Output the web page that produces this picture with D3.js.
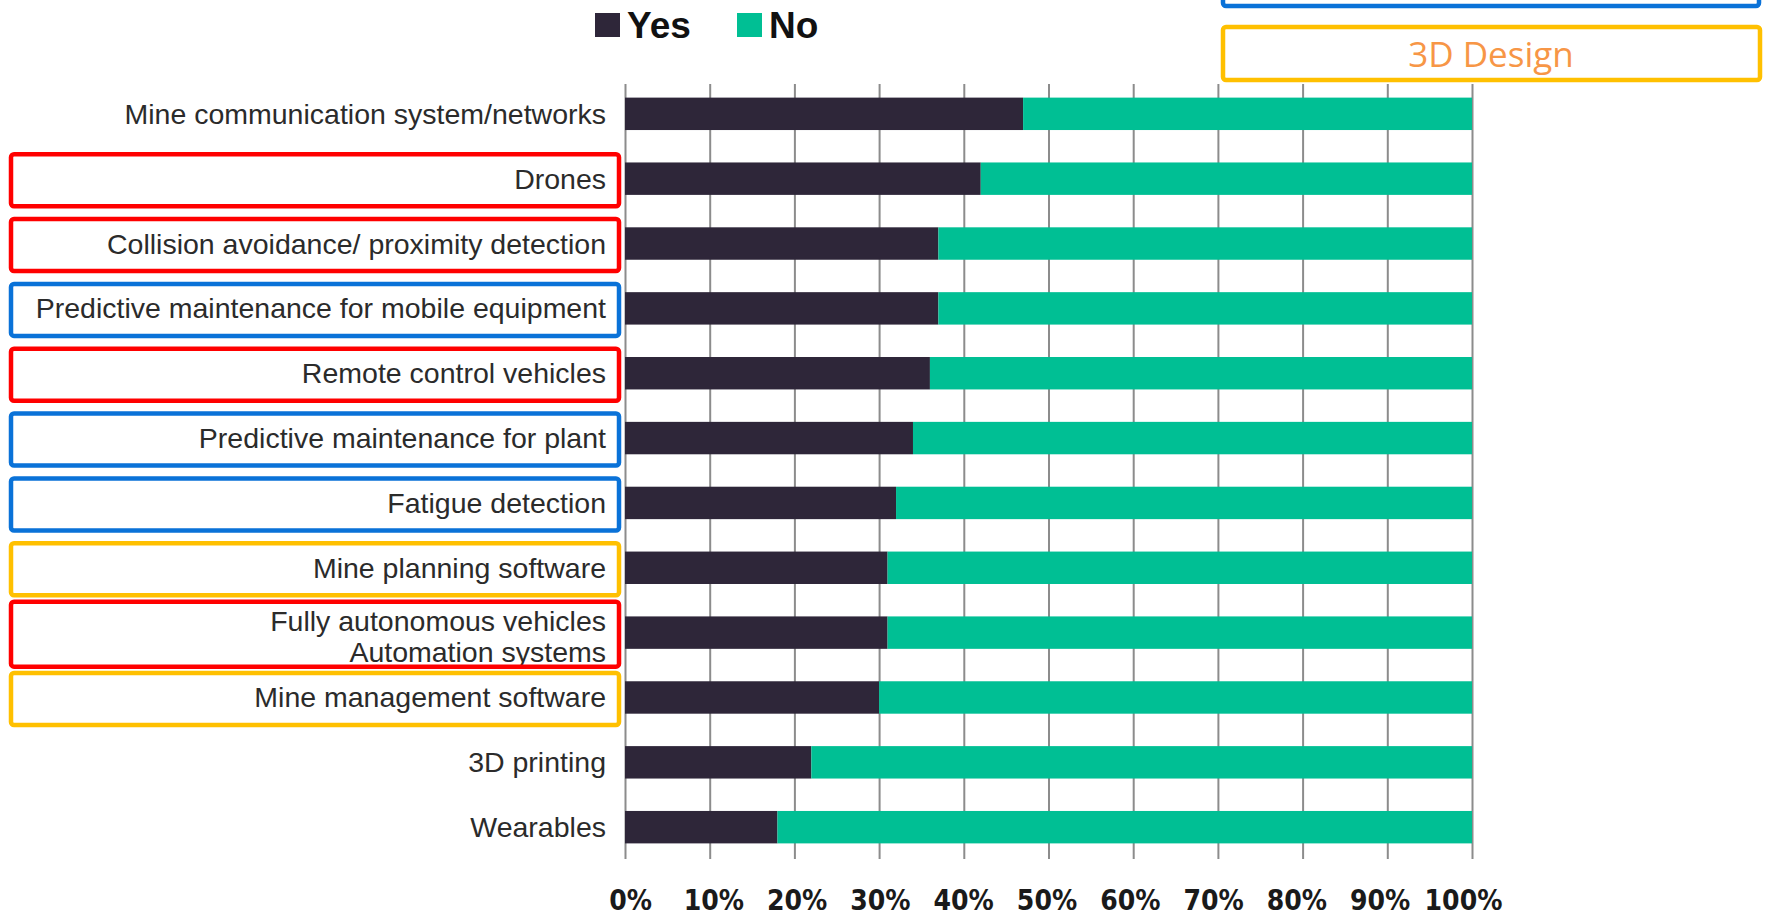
<!DOCTYPE html>
<html><head><meta charset="utf-8">
<script src="https://cdn.jsdelivr.net/npm/d3@7"></script>
<style>
html,body{margin:0;padding:0;background:#fff;}
svg{display:block;}
</style></head>
<body>
<svg id="chart" width="1767" height="916"></svg>
<script>
const categories = [
  "Mine communication system/networks",
  "Drones",
  "Collision avoidance/ proximity detection",
  "Predictive maintenance for mobile equipment",
  "Remote control vehicles",
  "Predictive maintenance for plant",
  "Fatigue detection",
  "Mine planning software",
  "Fully autonomous vehicles\nAutomation systems",
  "Mine management software",
  "3D printing",
  "Wearables"
];
const yesValues = [47, 42, 37, 37, 36, 34, 32, 31, 31, 30, 22, 18];
const noValues  = [53, 58, 63, 63, 64, 66, 68, 69, 69, 70, 78, 82];
const seriesNames = ["Yes", "No"];
const seriesColors = ["#2e2639", "#00bf94"];
const tickValues = [0, 10, 20, 30, 40, 50, 60, 70, 80, 90, 100];
const tickLabels = ["0%", "10%", "20%", "30%", "40%", "50%", "60%", "70%", "80%", "90%", "100%"];
const highlightColors = ["", "#ff0000", "#ff0000", "#0a72d8", "#ff0000", "#0a72d8", "#0a72d8", "#ffc000", "#ff0000", "#ffc000", "", ""];
const annotationText = "3D Design";

const svg = d3.select("#chart");
const x = d3.scaleLinear().domain([0, 100]).range([625, 1472]);
const xLabel = d3.scaleLinear().domain([0, 100]).range([630, 1463]);
const y = d3.scaleBand().domain(categories).range([81.4, 859.6]).paddingInner(0.5).paddingOuter(0.25);
const color = d3.scaleOrdinal().domain(seriesNames).range(seriesColors);

// gridlines
const grid = d3.axisBottom(x).tickValues(tickValues).tickFormat("").tickSize(-(859 - 84));
const gGrid = svg.append("g").attr("transform", "translate(0,859)").call(grid);
gGrid.select(".domain").remove();
gGrid.selectAll(".tick line").attr("stroke", "#8c8c8c").attr("stroke-width", 2);

// tick labels
const labAxis = d3.axisBottom(xLabel).tickValues(tickValues)
  .tickFormat((d, i) => tickLabels[i]).tickSize(0).tickPadding(31);
const gLab = svg.append("g").attr("transform", "translate(0,859)").call(labAxis);
gLab.select(".domain").remove();
gLab.selectAll(".tick text")
  .attr("fill", "#1a1a1a")
  .style("font-family", "'Liberation Sans Narrow','DejaVu Sans Condensed','Liberation Sans',sans-serif")
  .style("font-weight", "bold").style("font-size", "28px");

// stacked bars
const rows = categories.map((c, i) => ({cat: c, Yes: yesValues[i], No: noValues[i]}));
const stacked = d3.stack().keys(seriesNames)(rows);
svg.append("g").selectAll("g").data(stacked).join("g")
  .attr("fill", d => color(d.key))
  .selectAll("rect").data(d => d).join("rect")
  .attr("x", d => x(d[0]))
  .attr("y", d => y(d.data.cat))
  .attr("width", d => x(d[1]) - x(d[0]))
  .attr("height", y.bandwidth());

// category labels
const labelFont = "'Liberation Sans',Arial,sans-serif";
const labels = svg.append("g");
categories.forEach((c, i) => {
  const cy = y(c) + y.bandwidth() / 2;
  const lines = c.split("\n");
  const lh = 31.5;
  const t = labels.append("text")
    .attr("text-anchor", "end")
    .attr("fill", "#2b2b2b")
    .style("font-family", labelFont).style("font-size", "28.5px");
  lines.forEach((ln, k) => {
    t.append("tspan").attr("x", 606)
      .attr("y", cy + (k - (lines.length - 1) / 2) * lh + 10 + (lines.length > 1 ? 4 : 0))
      .text(ln);
  });
  if (highlightColors[i]) {
    const h = lines.length > 1 ? 65 : 52;
    svg.append("rect")
      .attr("x", 11).attr("y", cy + 1.5 - h / 2)
      .attr("width", 608).attr("height", h)
      .attr("rx", 3)
      .attr("fill", "none").attr("stroke", highlightColors[i]).attr("stroke-width", 4.5);
  }
});

// legend
const legend = svg.append("g");
const legendX = [595, 737];
seriesNames.forEach((s, i) => {
  legend.append("rect").attr("x", legendX[i]).attr("y", 13).attr("width", 25).attr("height", 24).attr("fill", color(s));
  legend.append("text").attr("x", legendX[i] + 32).attr("y", 38).text(s)
    .attr("fill", "#111")
    .style("font-family", "'Liberation Sans',Arial,sans-serif")
    .style("font-weight", "bold").style("font-size", "37px");
});

// annotation boxes top-right
svg.append("rect").attr("x", 1223).attr("y", -40).attr("width", 536).attr("height", 46)
  .attr("rx", 3).attr("fill", "none").attr("stroke", "#0a72d8").attr("stroke-width", 4.5);
svg.append("rect").attr("x", 1223).attr("y", 27).attr("width", 537).attr("height", 53)
  .attr("rx", 3).attr("fill", "none").attr("stroke", "#ffc000").attr("stroke-width", 4.5);
svg.append("text").attr("x", 1491).attr("y", 67).attr("text-anchor", "middle")
  .attr("fill", "#f79646")
  .style("font-family", "'Open Sans','Noto Sans',sans-serif").style("font-size", "35px")
  .text(annotationText);
</script>
</body></html>
